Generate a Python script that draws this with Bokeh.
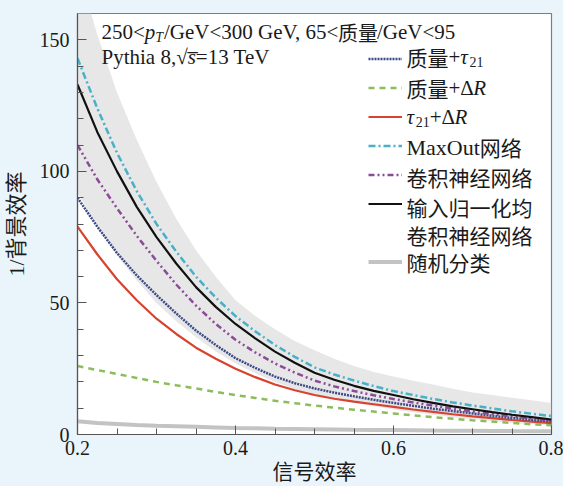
from bokeh.plotting import figure
from bokeh.models import Range1d, FixedTicker, Label, Legend, LegendItem
from bokeh.embed import file_html
from bokeh.resources import INLINE

# ---------------- data ----------------
sig_eff = [0.200, 0.225, 0.250, 0.275, 0.300, 0.325, 0.350, 0.375, 0.400, 0.425, 0.450, 0.475,
           0.500, 0.525, 0.550, 0.575, 0.600, 0.625, 0.650, 0.675, 0.700, 0.725, 0.750, 0.775, 0.800]
maxout = [143, 124, 107, 92.5, 80, 69.5, 60, 52, 45, 39.2, 34, 29.5,
          25.5, 22.8, 20.5, 18.4, 16.5, 15.0, 13.5, 12.2, 11.0, 9.9, 8.8, 7.9, 7.0]
cnn_norm = [133, 115, 100, 86.5, 75, 65, 56, 48.5, 42, 36.5, 31.5, 27.3,
            23.5, 20.8, 18.5, 16.6, 15.0, 13.4, 12.0, 10.7, 9.6, 8.5, 7.5, 6.6, 5.7]
cnn = [110, 97, 86, 75.5, 66, 57, 49, 42, 36, 31.2, 27, 23.5,
       20.5, 18.3, 16.5, 14.9, 13.5, 12.2, 11.0, 9.8, 8.7, 7.8, 6.9, 6.1, 5.3]
mass_tau21 = [90, 79, 69, 60.5, 53, 46, 39.5, 34, 29, 25.3, 22, 19.5,
              17.5, 15.9, 14.5, 13.2, 12.0, 10.9, 9.8, 8.9, 8.0, 7.1, 6.3, 5.6, 5.0]
tau21_dr = [79, 68.5, 59, 51, 44, 38.2, 33, 28.8, 25, 21.8, 19, 16.8,
            15, 13.6, 12.5, 11.5, 10.5, 9.5, 8.6, 7.7, 6.9, 6.2, 5.5, 4.9, 4.3]
mass_dr = [26, 24.5, 23, 21.5, 20, 18.7, 17.5, 16.2, 15, 13.9, 12.8, 11.9,
           11, 10.2, 9.4, 8.7, 8.0, 7.3, 6.6, 6.0, 5.4, 4.9, 4.4, 3.9, 3.5]
random_cls = [5.0, 4.4, 4.0, 3.6, 3.3, 3.1, 2.9, 2.7, 2.5, 2.35, 2.2, 2.1,
              2.0, 1.9, 1.8, 1.75, 1.7, 1.6, 1.5, 1.45, 1.4, 1.35, 1.3, 1.28, 1.25]
band_hi = [178, 152, 130, 112, 96, 82, 70, 60, 51, 45, 40, 35.5,
           32, 28.8, 26, 23.8, 22, 20.4, 19, 17.4, 16, 15, 14, 13, 12]
band_lo = [92, 79, 68, 58.5, 50, 43, 37, 31.5, 27, 23.3, 20, 17.3,
           15, 13.4, 12, 10.7, 9.5, 8.5, 7.5, 6.6, 5.8, 5.1, 4.4, 3.9, 3.4]

x_ticks = [0.2, 0.4, 0.6, 0.8]
x_minor = [0.25, 0.3, 0.35, 0.45, 0.5, 0.55, 0.65, 0.7, 0.75]
y_ticks = [0, 50, 100, 150]
y_minor = [10, 20, 30, 40, 60, 70, 80, 90, 110, 120, 130, 140]

# ---------------- layout ----------------
W, H = 563, 486
X0, X1, Y0, Y1 = 0.2, 0.8, 0.0, 160.0
# frame edges in canvas pixels
FL, FR, FT, FB = 77, 551, 13, 435

LAT = "Liberation Serif"
CJK = "Noto Sans CJK SC"
BG = "#eaf4fb"
TXT = "#1a1a1a"

p = figure(width=W, height=H, output_backend="svg", toolbar_location=None,
           x_range=Range1d(X0, X1), y_range=Range1d(Y0, Y1),
           min_border_left=FL, min_border_right=W - FR, min_border_top=FT,
           min_border_bottom=H - FB)
p.background_fill_color = "white"
p.border_fill_color = BG
p.outline_line_color = "#7d7d7d"
p.outline_line_width = 1.2
p.xgrid.visible = False
p.ygrid.visible = False

for ax in (p.xaxis, p.yaxis):
    ax.axis_line_color = "#555555"
    ax.axis_line_width = 1.2
    ax.major_tick_line_color = "#555555"
    ax.minor_tick_line_color = "#555555"
    ax.major_tick_in = 9
    ax.major_tick_out = 0
    ax.minor_tick_in = 6
    ax.minor_tick_out = 0
    ax.major_label_text_font = LAT
    ax.major_label_text_font_size = "20px"
    ax.major_label_text_color = TXT
    ax.axis_label_text_font = LAT + ", " + CJK
    ax.axis_label_text_font_style = "normal"
    ax.axis_label_text_color = TXT

p.xaxis.ticker = FixedTicker(ticks=x_ticks, minor_ticks=x_minor)
p.yaxis.ticker = FixedTicker(ticks=y_ticks, minor_ticks=y_minor)
p.xaxis.major_label_standoff = 6
p.yaxis.major_label_standoff = 8
p.xaxis.axis_label = "信号效率"
p.yaxis.axis_label = "1/背景效率"
p.xaxis.axis_label_text_font_size = "21px"
p.yaxis.axis_label_text_font_size = "22px"
p.xaxis.axis_label_standoff = 2
p.yaxis.axis_label_standoff = 8

# ---------------- marks ----------------
p.varea(x=sig_eff, y1=band_lo, y2=band_hi, fill_color="#d4d4d4", fill_alpha=0.55)
r_rand = p.line(sig_eff, random_cls, line_color="#c3c3c3", line_width=4)
r_mdr = p.line(sig_eff, mass_dr, line_color="#8cbd5c", line_width=2.5, line_dash="6 5")
r_tdr = p.line(sig_eff, tau21_dr, line_color="#d7432f", line_width=2.2)
r_mt = p.line(sig_eff, mass_tau21, line_color="#3b4a86", line_width=2.5, line_dash="2 1")
r_cnn = p.line(sig_eff, cnn, line_color="#8b4b98", line_width=2.5, line_dash="6 3 2 3 2 3")
r_mo = p.line(sig_eff, maxout, line_color="#4ab0c8", line_width=2.5, line_dash="7 3 2 3")
r_cn = p.line(sig_eff, cnn_norm, line_color="#111111", line_width=2.2)
r_blank = p.line([], [], line_alpha=0)

legend = Legend(
    items=[LegendItem(label=" ", renderers=[r]) for r in
           (r_mt, r_mdr, r_tdr, r_mo, r_cnn, r_cn, r_blank, r_rand)],
    location=(368 - FL, FB - 269.5 - 2), orientation="vertical",
    glyph_width=34, glyph_height=19, label_height=19, spacing=10,
    padding=0, margin=0, label_text_font_size="1px", label_standoff=0,
    label_width=1, background_fill_alpha=0, border_line_alpha=0)
p.add_layout(legend)

# ---------------- rich text labels ----------------
W_LAT = {'0': .5, '1': .5, '2': .5, '3': .5, '5': .5, '6': .5, '8': .5, '9': .5,
         '<': .564, '/': .278, 'G': .722, 'e': .444, 'V': .722, ' ': .25, ',': .25,
         'P': .556, 'y': .5, 't': .278, 'h': .5, 'i': .278, 'a': .444, '=': .564,
         'T': .611, 'M': .889, 'x': .5, 'O': .722, 'u': .5, '+': .564, 'Δ': .612,
         'R': .611, 'p': .5, 's': .389, 'τ': .44, '√': .549, '\u0305': 0.0}


def pw(text, font, size):
    if font == CJK:
        return size * len(text)
    return size * sum(W_LAT.get(c, .5) for c in text)


def rich(x_px, y_px, parts):
    xd = X0 + (x_px - FL) / (FR - FL) * (X1 - X0)
    yd = Y0 + (FB - y_px) / (FB - FT) * (Y1 - Y0)
    off = 0.0
    for part in parts:
        text, font, size, style, dy = part[:5]
        off += part[5] if len(part) > 5 else 0.0
        p.add_layout(Label(x=xd, y=yd, text=text, text_font=font,
                           text_font_size=f"{size}px", text_font_style=style,
                           x_offset=off, y_offset=dy, text_baseline="middle",
                           text_align="left", text_color=TXT))
        off += pw(text, font, size)


N, I = "normal", "italic"
rich(101, 32, [("250<", LAT, 21, N, 0), ("p", LAT, 21, I, 0), ("T", LAT, 14, I, -5),
               ("/GeV<300 GeV, 65<", LAT, 21, N, 0), ("质量", CJK, 20, N, 0, -3),
               ("/GeV<95", LAT, 21, N, 0, -1)])
rich(101, 57, [("Pythia 8,", LAT, 21, N, 0), ("√", LAT, 21, N, 0), ("s\u0305", LAT, 21, I, 0),
               (" =13 TeV", LAT, 21, N, 0)])

LX = 406
rich(LX, 57, [("质量", CJK, 21, N, 0), ("+", LAT, 21, N, 0), ("τ", LAT, 21, I, 0),
              ("21", LAT, 14, N, -5)])
rich(LX, 88, [("质量", CJK, 21, N, 0), ("+Δ", LAT, 21, N, 0), ("R", LAT, 21, I, 0)])
rich(LX, 117, [("τ", LAT, 21, I, 0), ("21", LAT, 14, N, -5), ("+Δ", LAT, 21, N, 0),
               ("R", LAT, 21, I, 0)])
rich(LX, 147, [("MaxOut", LAT, 22, N, 0), ("网络", CJK, 21, N, 0)])
rich(LX, 177, [("卷积神经网络", CJK, 21, N, 0)])
rich(LX, 207, [("输入归一化均", CJK, 21, N, 0)])
rich(LX, 235, [("卷积神经网络", CJK, 21, N, 0)])
rich(LX, 262, [("随机分类", CJK, 21, N, 0)])

html = file_html(p, INLINE)
html = html.replace("<head>", "<head><style>html,body{background:%s;}</style>" % BG, 1)
open("out.html", "w").write(html)
